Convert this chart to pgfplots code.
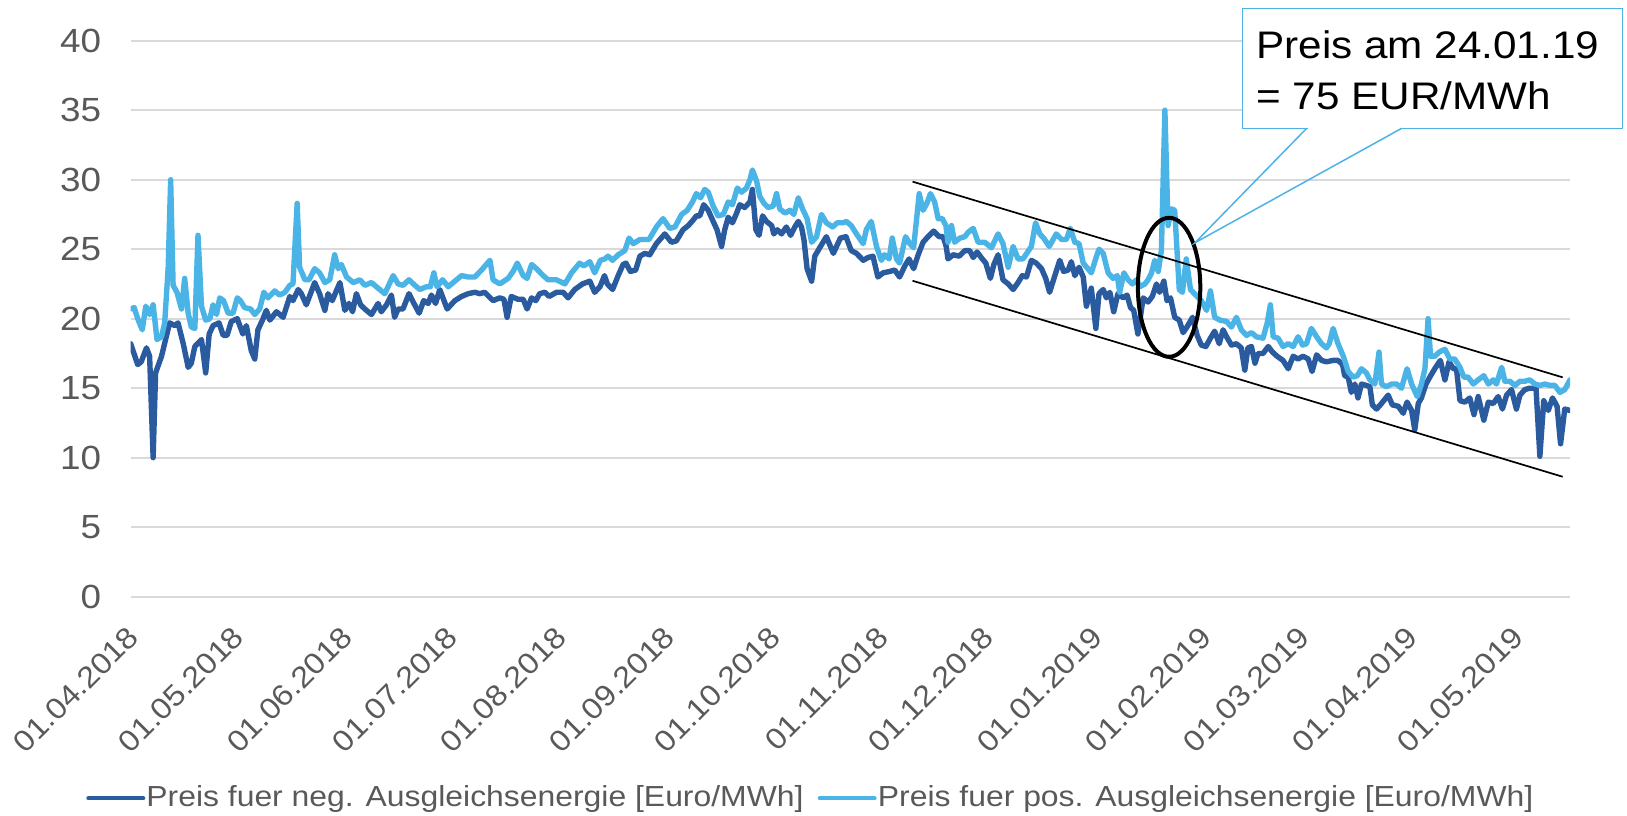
\documentclass[border=0pt]{standalone}
\usepackage{pgfplots}
\pgfplotsset{compat=1.18}
\usepackage{fontspec}
\setmainfont{Liberation Sans}[FakeStretch=1.1]
\definecolor{negblue}{RGB}{42,91,158}
\definecolor{posblue}{RGB}{75,180,231}
\definecolor{gridgray}{RGB}{217,217,217}
\definecolor{tickgray}{RGB}{89,89,89}
\definecolor{callblue}{RGB}{77,179,230}
\begin{document}
\begin{tikzpicture}
\useasboundingbox (0,0) rectangle (813.5pt,407.5pt);
\begin{axis}[
  at={(65.35pt,109.15pt)}, anchor=south west,
  width=719.65pt, height=278pt, scale only axis,
  xmin=0, xmax=410.7, ymin=0, ymax=40,
  axis line style={draw=none},
  major tick length=0pt,
  tick style={draw=none},
  ytick={0,5,10,15,20,25,30,35,40},
  ymajorgrids, grid style={gridgray, line width=1pt},
  xtick={0,30,61,91,122,153,183,214,244,275,306,334,365,395},
  xticklabels={01.04.2018,01.05.2018,01.06.2018,01.07.2018,01.08.2018,01.09.2018,01.10.2018,01.11.2018,01.12.2018,01.01.2019,01.02.2019,01.03.2019,01.04.2019,01.05.2019},
  /pgf/number format/assume math mode=true,
  yticklabel style={font=\fontsize{16.75pt}{20pt}\selectfont, text=tickgray, anchor=east, inner sep=0pt, xshift=-14.6pt},
  xticklabel style={font=\fontsize{14.8pt}{18pt}\selectfont, text=tickgray, inner sep=0pt, xshift=1.5pt, yshift=-17.5pt, anchor=east, rotate=45},
  every axis plot/.append style={line join=round, line cap=round},
]
% Preis fuer neg. Ausgleichsenergie
\addplot[negblue, line width=2.7pt] coordinates {
(0,18.2) (2,16.7) (3,16.9) (4.5,17.9) (5.4,17.3) (6.4,10.0) (7.1,16.1) (8.8,17.3) (11.1,19.7) (12.6,19.5) (13.5,19.7) (15,18.2) (16.4,16.5) (17.3,16.8) (18.3,18.0) (20.2,18.5) (21.4,16.1) (22.4,18.9) (23.5,19.5) (25.2,19.7) (26.4,18.8) (27.5,18.8) (28.7,19.8) (30.4,20.0) (32,18.9) (33,19.5) (34.4,17.7) (35.4,17.1) (36.3,19.2) (37.6,19.9) (38.7,20.6) (39.7,19.9) (41.6,20.5) (43.5,20.1) (45.4,21.6) (46.3,21.3) (47.8,22.1) (48.7,21.8) (50.1,21.0) (52.5,22.6) (53.9,21.8) (55.4,20.6) (56.3,21.8) (57.5,21.3) (59.7,22.6) (61.1,20.6) (62.3,21.1) (63.3,20.5) (64.4,21.8) (65.6,21.0) (66.8,20.7) (68.7,20.3) (70.6,21.1) (71.5,20.5) (73,21.0) (74.4,21.7) (75.3,20.1) (76.3,20.7) (77.7,20.7) (79.4,21.8) (80.6,21.2) (82.3,20.4) (83.6,21.3) (84.9,21.1) (85.8,21.7) (87,21.1) (88.2,22.1) (90.3,20.7) (92.5,21.3) (94.4,21.6) (96.3,21.8) (98.2,21.9) (99.6,21.8) (101,21.9) (103.4,21.3) (105.3,21.5) (106.5,21.4) (107.4,20.1) (108.6,21.6) (110.5,21.4) (112,21.4) (113.1,20.7) (114.4,21.5) (115.6,21.3) (116.7,21.8) (118.2,21.9) (119.4,21.6) (121.5,21.9) (123.4,21.9) (124.8,21.5) (126.7,22.1) (128.9,22.5) (131,22.7) (132.4,21.9) (133.9,22.3) (135.2,23.1) (136,22.5) (137.5,22.1) (139.1,23.1) (140.5,23.9) (141.3,24.0) (142.6,23.4) (144.1,23.5) (145.3,24.5) (146.7,24.7) (148.1,24.6) (150,25.4) (152.4,26.1) (154.3,25.5) (155.7,25.6) (157.6,26.4) (159.1,26.7) (160.5,27.1) (161.4,27.4) (162.4,27.4) (163.5,28.2) (164.8,27.8) (166.2,27.0) (167.3,26.4) (168.6,25.2) (169.5,26.4) (170.5,27.3) (171.7,26.9) (172.9,27.6) (173.8,28.2) (175.2,28.0) (176.7,28.4) (177.4,29.3) (178.4,26.4) (179.3,26.0) (180.3,27.4) (181.4,27.0) (182.9,26.7) (183.5,26.1) (184.5,26.4) (185.7,26.1) (187.1,26.6) (188.3,26.0) (189.5,26.6) (190.5,27.0) (191.4,26.6) (192.1,25.7) (193,23.6) (194.3,22.7) (195.2,24.5) (196.6,25.1) (198.5,25.9) (200.5,24.7) (202.5,25.8) (204.1,25.9) (205.6,24.9) (207.1,24.7) (209,24.2) (210.4,24.4) (211.8,24.5) (213.2,23.0) (214.7,23.3) (216.6,23.4) (218,23.5) (219.4,23.0) (220.9,23.8) (222.1,24.3) (223.4,23.6) (224.7,24.6) (226.1,25.5) (227.5,25.9) (229.1,26.3) (230.7,25.9) (231.8,25.9) (232.7,25.2) (233.2,24.3) (234.7,24.6) (236.4,24.5) (238,24.9) (239.4,24.9) (240.4,24.4) (241.5,24.8) (243,24.3) (244,24.0) (245.3,22.9) (246.3,23.9) (247.5,24.6) (248.9,22.8) (250.4,22.5) (251.8,22.1) (253.2,22.6) (254.4,23.1) (255.6,23.0) (257,24.2) (258.4,24.0) (259.9,23.6) (261.1,22.9) (262.2,21.9) (263.7,23.1) (265.1,24.2) (266.2,23.4) (267.5,23.5) (268.4,24.1) (269.4,23.1) (270.6,23.7) (271.8,23.0) (272.7,20.9) (274.1,22.2) (275.4,19.3) (276.3,21.8) (277.5,22.1) (278.4,21.5) (279.4,21.9) (280.5,20.5) (281.7,21.8) (283.2,21.5) (284.3,21.7) (285.3,20.8) (286.2,20.6) (287.4,18.9) (288.9,21.5) (290.3,21.2) (291.5,21.6) (292.7,22.5) (293.6,21.9) (294.8,22.7) (295.7,21.3) (296.7,21.5) (297.9,20.1) (299.2,19.9) (300.3,19.0) (301.4,19.4) (303,20.1) (304.3,18.8) (305.5,18.1) (306.8,18.0) (308.1,18.6) (309.3,19.1) (310.6,18.2) (311.7,19.2) (312.7,18.7) (314.1,18.1) (315.5,18.2) (316.9,17.9) (317.9,16.3) (318.8,17.9) (319.8,18.0) (320.8,16.8) (321.7,17.5) (323.1,17.5) (324.6,18.0) (325.8,17.6) (327.1,17.3) (328.8,17.0) (330.3,16.4) (331.7,17.3) (333.1,17.1) (334.5,17.3) (336,17.1) (337.1,16.2) (338.4,17.4) (339.8,17.0) (341.2,16.9) (343.1,17.0) (344.5,17.0) (345.8,16.7) (346.4,15.9) (347.4,15.8) (348.3,14.7) (349.3,15.3) (350.2,14.3) (351.2,15.3) (352.6,15.2) (353.6,15.1) (354.3,13.8) (355.5,13.5) (356.9,13.9) (358.8,14.5) (360,13.8) (361.7,13.7) (363.1,13.2) (364.2,14.0) (365.5,13.4) (366.4,12.0) (367.4,13.9) (368.3,14.3) (369.6,15.3) (370.7,15.8) (372.1,16.4) (373.7,17.0) (375,15.6) (376.2,16.9) (377.4,16.4) (378.3,16.4) (379.3,14.1) (380.7,14.0) (382.1,14.3) (383.3,13.1) (384.5,14.4) (386.1,12.7) (387.4,14.0) (388.8,13.9) (390.2,14.4) (391.4,13.5) (392.6,14.5) (394,14.9) (395.4,13.5) (396.4,14.5) (397.8,14.9) (399.2,15.0) (401,15.0) (402.1,10.1) (403.2,14.1) (404.5,13.4) (405.7,14.3) (407,13.7) (408,11.0) (409.2,13.5) (410.7,13.4)
};
% Preis fuer pos. Ausgleichsenergie
\addplot[posblue, line width=2.7pt] coordinates {
(0,20.7) (1,20.8) (2,20.0) (3.3,19.2) (4.3,20.9) (5.4,20.3) (6.4,21.0) (7.5,18.5) (8.8,18.7) (9.7,19.7) (10.7,23.7) (11.4,30.0) (12.1,22.4) (13.2,21.9) (14.5,20.7) (15.4,22.9) (16.4,20.4) (17.3,19.4) (18.3,19.3) (19.2,26.0) (20.2,20.9) (21.4,19.9) (22.6,20.0) (23.5,21.0) (24.5,20.3) (25.4,21.5) (26.5,21.3) (27.8,20.4) (29.2,20.4) (30.4,21.5) (31.3,21.3) (32.5,20.8) (34.2,20.7) (35.4,20.3) (36.8,20.7) (38,21.9) (39.2,21.5) (41.1,22.0) (42.5,21.7) (44,21.9) (45.4,22.4) (46.3,22.5) (47.5,28.3) (48.2,23.7) (49.7,22.8) (50.9,22.8) (52.5,23.6) (53.9,23.3) (55.4,22.6) (56.8,22.8) (58.2,24.6) (59.2,23.6) (60.1,23.9) (61.6,23.0) (63.5,22.6) (65.4,22.8) (66.8,22.4) (68.7,22.6) (70.1,22.3) (72.5,21.8) (74.9,23.1) (76.3,22.5) (77.7,22.4) (79.4,22.8) (81.1,22.4) (82.5,22.1) (84.4,22.3) (85.5,22.3) (86.5,23.3) (87.4,22.3) (89,22.8) (90.6,22.3) (92.5,22.7) (94.4,23.1) (96.3,23.0) (98.2,23.0) (100.1,23.5) (102.5,24.2) (103.4,22.8) (105.3,22.5) (107.7,22.9) (109.1,23.4) (110.3,24.0) (112,23.1) (113.1,22.9) (114.4,23.9) (115.8,23.6) (117.7,23.1) (119.1,22.8) (121.5,22.8) (123.9,22.5) (125.8,23.3) (128.1,24.0) (129.3,23.8) (131,24.1) (132.4,23.3) (134,24.2) (135.3,24.3) (136.2,24.5) (137.5,24.2) (139.1,24.6) (141,24.9) (142.2,25.8) (143.4,25.4) (145.3,25.7) (147.9,25.7) (150,26.6) (151.9,27.2) (153.8,26.5) (155.3,26.6) (157.2,27.5) (158.8,27.8) (160.3,28.4) (161.4,29.0) (162.6,28.7) (163.8,29.3) (164.8,29.1) (166.2,28.1) (167.6,27.4) (169.1,27.5) (170.5,28.4) (171.7,28.2) (173.1,29.4) (174.3,29.1) (175.7,29.4) (176.7,30.0) (177.4,30.7) (178.6,29.9) (179.5,28.8) (180.7,28.3) (181.9,28.0) (183.3,28.1) (184.3,29.0) (185.2,27.9) (186.7,27.6) (188.1,27.8) (189.2,27.5) (190.5,28.7) (191.7,27.9) (193,27.2) (194.3,25.5) (195.7,25.9) (197.1,27.5) (198.5,26.9) (200.3,26.6) (201.6,26.9) (203.3,26.9) (204.2,27.0) (205.6,26.7) (207.1,26.1) (209,25.4) (209.9,26.4) (211.3,27.0) (212.8,25.2) (214.2,24.2) (215.1,24.6) (216.4,24.3) (217.3,25.8) (218.5,24.3) (219.4,24.0) (221.1,25.9) (222.3,25.4) (223.4,25.1) (225,29.0) (226.1,27.8) (227.2,28.3) (228.2,29.0) (229.4,28.4) (230.4,27.2) (231.6,27.2) (232.6,26.7) (233.2,25.5) (234.2,26.7) (235.1,25.5) (236.6,25.8) (238,25.9) (238.9,26.2) (240.4,26.5) (241.8,25.5) (243.7,25.5) (245.6,25.1) (247.5,26.1) (248.9,25.4) (250.4,23.7) (251.8,25.2) (253.2,24.3) (254.6,24.3) (257,25.2) (258.2,26.9) (259.4,26.1) (260.5,25.8) (262.1,25.2) (264.1,26.1) (265.6,25.7) (267,25.7) (268.1,26.5) (269.4,25.5) (270.6,25.4) (271.8,24.0) (274.1,23.3) (275.6,24.5) (276.3,25.0) (277.5,24.7) (278.9,23.3) (280.3,22.9) (281.5,23.1) (282.2,21.9) (283.4,23.3) (284.6,22.8) (285.8,22.5) (287,22.8) (287.9,22.3) (289.4,22.5) (290.3,22.8) (291.3,23.3) (292.2,24.2) (293.2,23.4) (294.1,24.9) (295.1,35.0) (296,26.7) (297,27.9) (297.9,27.8) (299.2,22.1) (300.1,21.9) (301.2,24.3) (302.4,22.1) (303.9,21.7) (305.5,21.3) (307,20.6) (308.1,22.0) (309.3,20.1) (310.8,19.9) (312.7,19.8) (314.1,19.4) (315.5,20.1) (316.9,19.2) (318.4,18.8) (319.8,19.0) (321.2,18.7) (323.1,18.6) (324.3,19.7) (325.2,21.0) (326,18.7) (327.4,18.6) (328.8,18.0) (330.3,18.2) (331.7,18.0) (333.1,18.7) (334.4,18.1) (335.5,18.2) (336.9,19.3) (338.4,18.7) (339.8,18.2) (341.2,17.9) (342,18.2) (343.1,19.3) (344.5,18.2) (346,17.3) (347.4,16.2) (348.8,15.8) (350,15.9) (351.2,16.4) (352.6,16.1) (353.6,15.6) (355,15.3) (356.2,17.6) (356.9,15.3) (358.3,15.1) (359.8,15.3) (361.2,15.3) (362.6,15.0) (364.2,16.4) (365.5,15.3) (367.1,14.4) (368.3,15.3) (369.3,16.4) (370.2,20.0) (370.9,17.3) (372.1,17.3) (373.4,17.6) (375,17.8) (376.4,17.1) (377.8,17.1) (379.3,16.5) (380.4,15.8) (381.6,15.8) (383.1,15.3) (384.5,15.6) (386.1,15.9) (387.4,15.3) (388.8,15.6) (389.7,15.3) (391.2,16.5) (392.1,15.5) (393.5,15.5) (395,15.2) (396.4,15.5) (397.8,15.5) (399.2,15.6) (400.7,15.3) (402.1,15.2) (403.5,15.3) (405,15.2) (406.4,15.2) (407.8,14.7) (409.2,14.9) (410.7,15.6)
};
% trend channel
\draw[black, line width=0.85pt] (axis cs:223.1,29.86) -- (axis cs:408.6,15.78);
\draw[black, line width=0.85pt] (axis cs:223.1,22.73) -- (axis cs:408.6,8.63);
% ellipse
\draw[black, line width=2pt] (axis cs:296.3,22.26) ellipse [x radius=15.6pt, y radius=34.75pt];
\end{axis}
% callout
\draw[callblue, line width=0.75pt, fill=white] (621.35pt,343.35pt) rectangle (811.35pt,403.35pt);
\draw[white, line width=1pt] (654pt,343.35pt) -- (700.2pt,343.35pt);
\draw[callblue, line width=0.75pt, line join=miter] (653.35pt,343.35pt) -- (597.5pt,286.15pt) -- (700.85pt,343.35pt);
\node[anchor=base west, inner sep=0pt, font=\fontsize{19.2pt}{23pt}\selectfont] at (628pt,378.35pt) {Preis am 24.01.19};
\node[anchor=base west, inner sep=0pt, font=\fontsize{19.2pt}{23pt}\selectfont] at (628pt,352.5pt) {= 75 EUR/MWh};
% legend
\draw[negblue, line width=2pt, line cap=round] (44.15pt,8.35pt) -- (71.65pt,8.35pt);
\node[anchor=base west, inner sep=0pt, text=tickgray, font=\fontsize{14.5pt}{17pt}\selectfont] at (73pt,4.15pt) {Preis fuer neg. Ausgleichsenergie [Euro/MWh]};
\draw[posblue, line width=2pt, line cap=round] (409.85pt,8.35pt) -- (437.35pt,8.35pt);
\node[anchor=base west, inner sep=0pt, text=tickgray, font=\fontsize{14.5pt}{17pt}\selectfont] at (438.75pt,4.15pt) {Preis fuer pos. Ausgleichsenergie [Euro/MWh]};
\end{tikzpicture}
\end{document}
